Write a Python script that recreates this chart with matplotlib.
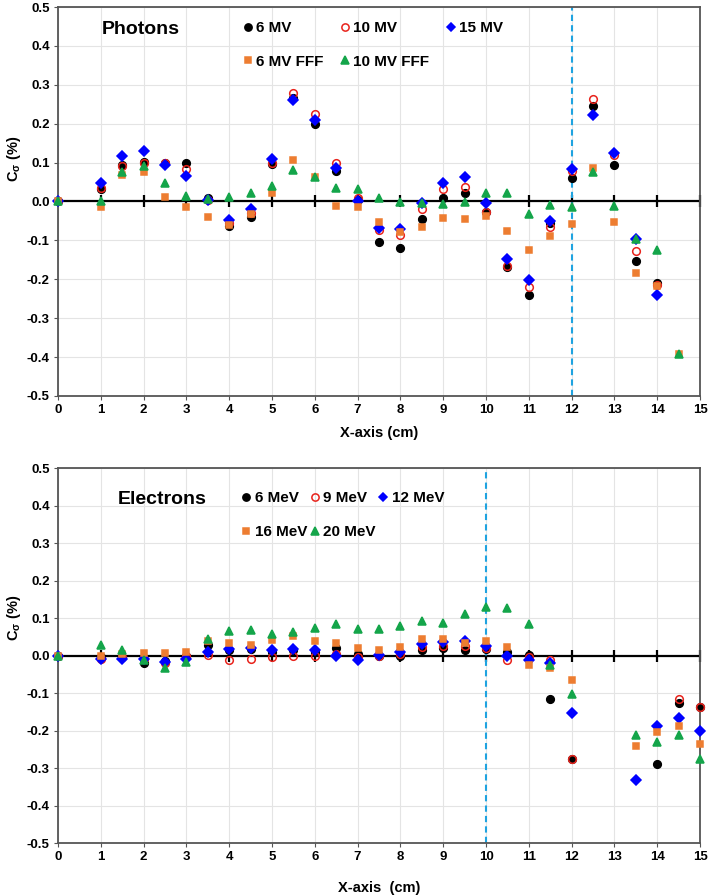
#!/usr/bin/env python3
"""
Two-panel scatter of C_sigma (%) vs off-axis position for photon and
electron beams, with the field-edge marked by a dashed vertical line.
"""
import numpy as np
import matplotlib
matplotlib.use("Agg")
import matplotlib.pyplot as plt

nan = np.nan
OUT = "out.png"

# Photons panel
X_PH = [0, 1, 1.5, 2, 2.5, 3, 3.5, 4, 4.5, 5, 5.5, 6, 6.5, 7, 7.5, 8, 8.5, 9,
        9.5, 10, 10.5, 11, 11.5, 12, 12.5, 13, 13.5, 14, 14.5]
PH_6MV = [0, 0.032, 0.094, 0.102, 0.100, 0.100, 0.008, -0.063, -0.039, 0.096,
          0.265, 0.200, 0.078, 0.005, -0.103, -0.120, -0.045, 0.008, 0.021,
          -0.026, -0.168, -0.240, -0.055, 0.060, 0.245, 0.094, -0.152, -0.209, nan]
PH_10MV = [0, 0.035, 0.090, 0.098, 0.098, 0.084, 0.005, -0.055, -0.030, 0.100,
           0.278, 0.225, 0.098, 0.010, -0.073, -0.087, -0.018, 0.033, 0.038,
           -0.028, -0.165, -0.221, -0.065, 0.078, 0.263, 0.120, -0.127, -0.215, nan]
PH_15MV = [0, 0.048, 0.116, 0.130, 0.095, 0.066, 0.005, -0.048, -0.018, 0.109,
           0.261, 0.210, 0.085, 0.000, -0.067, -0.070, -0.005, 0.048, 0.062,
           -0.003, -0.149, -0.202, -0.049, 0.084, 0.222, 0.125, -0.096, -0.240, nan]
PH_6FFF = [0, -0.015, 0.069, 0.077, 0.012, -0.013, -0.040, -0.060, -0.033, 0.023,
           0.106, 0.062, -0.011, -0.015, -0.052, -0.079, -0.066, -0.043, -0.045,
           -0.037, -0.076, -0.125, -0.088, -0.059, 0.087, -0.052, -0.183, -0.217, -0.392]
PH_10FFF = [0, 0.000, 0.076, 0.092, 0.048, 0.015, 0.007, 0.011, 0.021, 0.040,
            0.081, 0.064, 0.034, 0.032, 0.008, -0.002, -0.005, -0.007, -0.002,
            0.023, 0.021, -0.033, -0.009, -0.013, 0.076, -0.011, -0.096, -0.125, -0.392]
PH_LABELS = ["6 MV", "10 MV", "15 MV", "6 MV FFF", "10 MV FFF"]

# Electrons panel
X_EL = [0, 1, 1.5, 2, 2.5, 3, 3.5, 4, 4.5, 5, 5.5, 6, 6.5, 7, 7.5, 8, 8.5, 9,
        9.5, 10, 10.5, 11, 11.5, 12, 12.5, 13, 13.5, 14, 14.5, 15]
EL_6 = [0, -0.005, -0.005, -0.020, -0.015, 0.000, 0.028, 0.015, 0.018, 0.010,
        0.015, 0.010, 0.020, 0.005, 0.000, 0.000, 0.015, 0.020, 0.015, 0.018,
        0.009, 0.002, -0.117, -0.275, nan, nan, nan, -0.288, -0.127, -0.136]
EL_9 = [0, -0.010, -0.005, -0.010, -0.020, 0.000, 0.002, -0.012, -0.009, -0.004,
        -0.002, 0.000, 0.005, -0.005, 0.000, 0.005, 0.022, 0.026, 0.025, 0.020,
        -0.013, -0.005, -0.011, -0.275, nan, nan, nan, nan, -0.116, -0.136]
EL_12 = [0, -0.010, -0.010, -0.010, -0.016, -0.009, 0.009, 0.018, 0.020, 0.016,
         0.018, 0.016, 0.000, -0.012, 0.002, 0.009, 0.030, 0.035, 0.038, 0.026,
         -0.002, -0.012, -0.020, -0.153, nan, nan, -0.333, -0.189, -0.167, -0.200]
EL_16 = [0, -0.002, 0.005, 0.006, 0.006, 0.009, 0.038, 0.034, 0.027, 0.042,
         0.052, 0.040, 0.034, 0.020, 0.015, 0.024, 0.044, 0.043, 0.034, 0.038,
         0.022, -0.024, -0.033, -0.064, nan, nan, -0.240, -0.203, -0.187, -0.237]
EL_20 = [0, 0.028, 0.016, -0.012, -0.032, -0.016, 0.044, 0.066, 0.068, 0.057,
         0.062, 0.074, 0.085, 0.071, 0.071, 0.078, 0.093, 0.086, 0.111, 0.130,
         0.126, 0.085, -0.025, -0.103, nan, nan, -0.213, -0.231, -0.213, -0.275]
EL_LABELS = ["6 MeV", "9 MeV", "12 MeV", "16 MeV", "20 MeV"]

Y_TICKS = [0.5, 0.4, 0.3, 0.2, 0.1, 0.0, -0.1, -0.2, -0.3, -0.4, -0.5]
Y_TICKLABELS = ["0.5", "0.4", "0.3", "0.2", "0.1", "0.0",
                "-0.1", "-0.2", "-0.3", "-0.4", "-0.5"]

# marker, face, edge, size
STYLES = [
    ("o", "black", "black", 5.5),
    ("o", "none", "#e8231c", 5.5),
    ("D", "#0000ff", "#0000ff", 4.8),
    ("s", "#ed7d31", "#ed7d31", 5.0),
    ("^", "#14a54a", "#14a54a", 5.5),
]
FONT = "Liberation Sans"


def draw_panel(ax, x, series, labels, title, title_xy, edge_x, leg_anchor,
               colspacing, xlabel, xlabel_y, ylabel_y):
    ax.set_xlim(0, 15)
    ax.set_ylim(-0.5, 0.5)
    ax.set_xticks(np.arange(0, 16, 1))
    ax.set_yticks(Y_TICKS)
    ax.set_yticklabels(Y_TICKLABELS)
    ax.grid(True, color="#e4e4e4", lw=0.8)
    ax.set_axisbelow(True)
    for s in ax.spines.values():
        s.set_color("#555555")
        s.set_linewidth(1.3)
    ax.tick_params(length=3, color="#555555", labelsize=9.5, pad=3)
    for t in ax.get_xticklabels() + ax.get_yticklabels():
        t.set_fontweight("bold")
        t.set_fontfamily(FONT)

    # zero axis with cross tick marks
    ax.axhline(0, color="black", lw=1.6, zorder=2)
    ax.plot(np.arange(1, 16), np.zeros(15), ls="none", marker="|", ms=8,
            mew=1.6, color="black", zorder=2, clip_on=False)
    ax.axvline(edge_x, color="#1fa3e0", lw=1.5, ls=(0, (3, 2)), zorder=2)

    handles = []
    for y, lab, (m, fc, ec, ms) in zip(series, labels, STYLES):
        h, = ax.plot(x, y, ls="none", marker=m, mfc=fc, mec=ec, ms=ms,
                     mew=1.1, label=lab, zorder=3, clip_on=False)
        handles.append(h)

    order = [0, 3, 1, 4, 2]
    ax.legend([handles[i] for i in order], [labels[i] for i in order], ncol=3,
              loc="upper left", bbox_to_anchor=leg_anchor, frameon=False,
              handlelength=0.5, handletextpad=0.3, columnspacing=colspacing,
              labelspacing=1.3, borderaxespad=0, markerscale=0.95,
              prop={"family": FONT, "weight": "bold", "size": 11})

    ax.text(title_xy[0], title_xy[1], title, transform=ax.transAxes,
            fontsize=14, fontweight="bold", family=FONT, va="center")
    ax.set_xlabel(xlabel, fontsize=10.5, fontweight="bold", family=FONT)
    ax.xaxis.set_label_coords(0.5, xlabel_y)
    ax.set_ylabel(r"C$_\mathbf{\sigma}$ (%)", fontsize=10.5, fontweight="bold",
                  family=FONT)
    ax.yaxis.set_label_coords(-0.055, ylabel_y)


def main():
    plt.rcParams["mathtext.fontset"] = "custom"
    plt.rcParams["mathtext.rm"] = FONT
    plt.rcParams["mathtext.bf"] = FONT + ":bold"
    fig = plt.figure(figsize=(7.09, 8.96), dpi=100)
    ax1 = fig.add_axes([58 / 709, 1 - 396 / 896, 642 / 709, 389 / 896])
    ax2 = fig.add_axes([58 / 709, 1 - 843 / 896, 642 / 709, 375 / 896])

    draw_panel(ax1, X_PH, [PH_6MV, PH_10MV, PH_15MV, PH_6FFF, PH_10FFF],
               PH_LABELS, "Photons", (0.068, 0.943), 12, (0.28, 0.98), 1.15,
               "X-axis (cm)", -0.078, 0.61)
    draw_panel(ax2, X_EL, [EL_6, EL_9, EL_12, EL_16, EL_20],
               EL_LABELS, "Electrons", (0.093, 0.917), 10, (0.278, 0.955), 0.25,
               "X-axis  (cm)", -0.1, 0.6)

    fig.savefig(OUT, dpi=100)


if __name__ == "__main__":
    main()
